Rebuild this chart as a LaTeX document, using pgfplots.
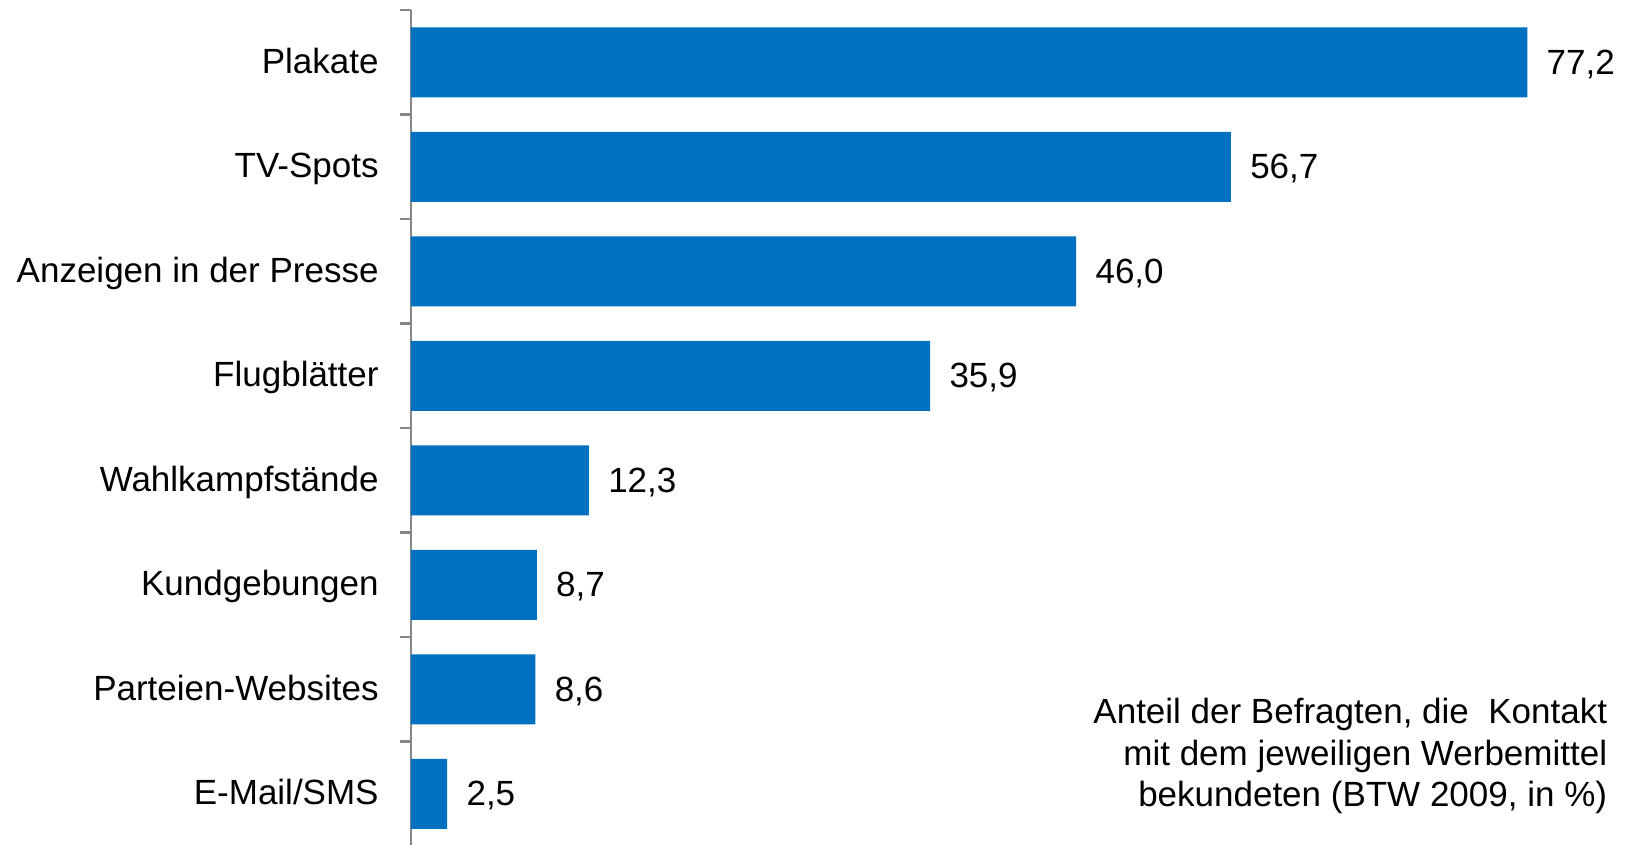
\documentclass[border=0pt]{standalone}
\usepackage{fontspec}
\setmainfont{Liberation Sans}
\usepackage{pgfplots}
\pgfplotsset{compat=1.18}
\definecolor{barblue}{RGB}{0,112,192}
\definecolor{axgray}{RGB}{134,134,134}
\begin{document}
\begin{tikzpicture}
\useasboundingbox (0,0) rectangle (813.5pt,422.5pt);
\begin{axis}[
  at={(205.5pt,-0.5pt)}, anchor=south west,
  scale only axis, width=578.4pt, height=418pt,
  xbar, bar width=35pt,
  xmin=0, xmax=80,
  ymin=-0.5, ymax=7.5, y dir=reverse,
  axis x line=none,
  axis y line*=left,
  y axis line style={axgray, line width=1.35pt},
  xtick=\empty,
  ytick={0,...,7},
  yticklabels={Plakate,TV-Spots,Anzeigen in der Presse,Flugblätter,Wahlkampfstände,Kundgebungen,Parteien-Websites,E-Mail/SMS},
  major tick length=0pt,
  yticklabel style={font=\fontsize{17.5}{21}\selectfont, inner sep=0pt, anchor=east, xshift=-16pt, yshift=-2.5pt, text height=0.8em, text depth=0.2em},
  extra y ticks={-0.5,0.5,...,7.5},
  extra y tick labels={},
  extra y tick style={tick align=outside, major tick length=5.5pt, tick style={axgray, line width=1.35pt}},
  nodes near coords,
  every node near coord/.append style={font=\fontsize{17.5}{21}\selectfont, inner sep=0pt, anchor=west, xshift=9.5pt, yshift=-2.5pt, text height=0.72em, text depth=0pt, black},
  /pgf/number format/.cd, use comma, fixed, fixed zerofill, precision=1, assume math mode=true,
]
\addplot[fill=barblue, draw=none] coordinates {(77.2,0) (56.7,1) (46.0,2) (35.9,3) (12.3,4) (8.7,5) (8.6,6) (2.5,7)};
\end{axis}
\node[anchor=north east, align=right, inner sep=0pt, font=\fontsize{17.5}{20.8}\selectfont] at (803.75pt,73.5pt) {Anteil der Befragten, die~ Kontakt\\mit dem jeweiligen Werbemittel\\bekundeten (BTW 2009, in \%)};
\end{tikzpicture}
\end{document}
